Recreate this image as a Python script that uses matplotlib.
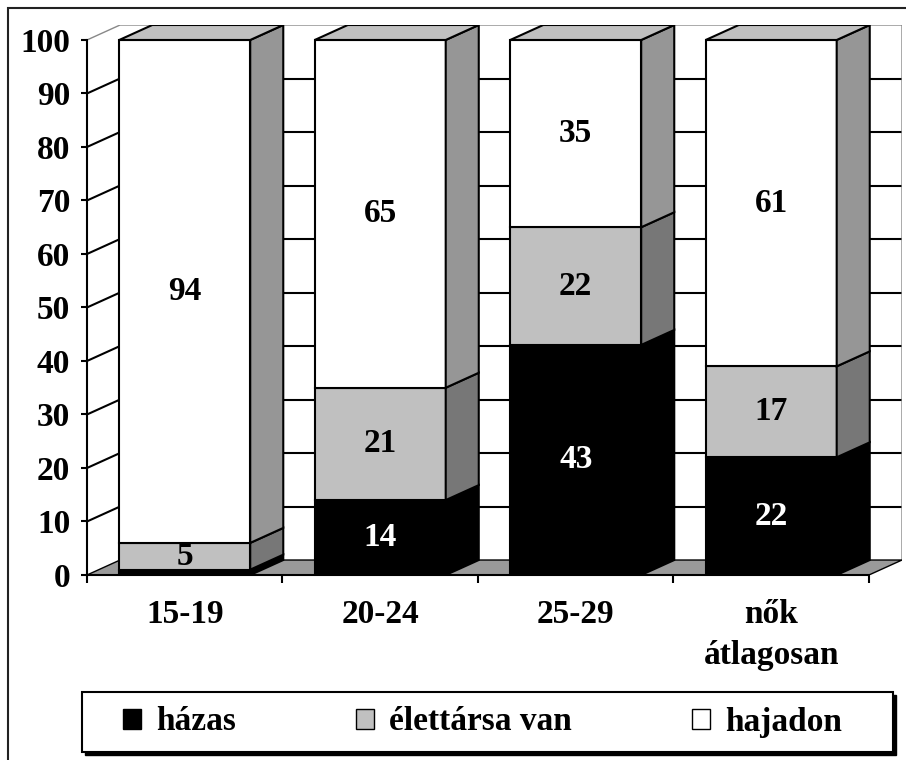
import matplotlib
matplotlib.use("Agg")
import matplotlib.pyplot as plt
from matplotlib.patches import Polygon, Rectangle, Patch

plt.rcParams['font.family'] = ['Liberation Serif', 'DejaVu Serif']
plt.rcParams['font.weight'] = 'bold'

# data (percent)
categories = ["15-19", "20-24", "25-29", "nők\nátlagosan"]
series_names = ["házas", "élettársa van", "hajadon"]
hazas = [1, 14, 43, 22]
elettarsa = [5, 21, 22, 17]
hajadon = [94, 65, 35, 61]
y_ticks = list(range(0, 101, 10))

# styles per series: front, side, top faces and label colour
front_colors = ["#000000", "#c0c0c0", "#ffffff"]
side_colors = ["#000000", "#777777", "#969696"]
top_colors = ["#000000", "#a8a8a8", "#c0c0c0"]
label_colors = ["white", "black", "black"]

DX = 0.169   # depth offset (category units)
DY = 2.8     # depth offset (percent units)
W = 0.67     # width of a bar's front face
FS = 24
LW = 1.5

fig = plt.figure(figsize=(9.06, 7.6), dpi=100)
ax = fig.add_axes([87 / 906, 1 - 575 / 760, (902 - 87) / 906, (575 - 25) / 760])
ax.set_xlim(-0.5, 3.5 + DX)
ax.set_ylim(0, 100 + DY)

# back wall grid and left wall diagonals
for v in y_ticks[1:-1]:
    ax.plot([-0.5 + DX, 3.5 + DX], [v + DY, v + DY], color="black", lw=LW, zorder=0.5)
for v in y_ticks[1:-1]:
    ax.plot([-0.5, -0.5 + DX], [v, v + DY], color="black", lw=LW, zorder=0.5)
top = y_ticks[-1]
ax.plot([-0.5, -0.5 + DX, 3.5 + DX, 3.5 + DX], [top, top + DY, top + DY, DY],
        color="#888888", lw=1, zorder=0.5)

# floor
floor = Polygon([(-0.5, 0), (3.5, 0), (3.5 + DX, DY), (-0.5 + DX, DY)],
                closed=True, fc="#9a9a9a", ec="black", lw=1, zorder=0.8)
ax.add_patch(floor)

# stacked 3d bars
series = [hazas, elettarsa, hajadon]
for i in range(len(categories)):
    xl = i - W / 2
    xr = i + W / 2
    b = 0
    for s, vals in enumerate(series):
        v = vals[i]
        t = b + v
        ax.add_patch(Rectangle((xl, b), W, v, fc=front_colors[s], ec="black", lw=LW, zorder=2))
        ax.add_patch(Polygon([(xr, b), (xr + DX, b + DY), (xr + DX, t + DY), (xr, t)],
                             closed=True, fc=side_colors[s], ec="black", lw=LW, zorder=2))
        if s == len(series) - 1:
            ax.add_patch(Polygon([(xl, t), (xr, t), (xr + DX, t + DY), (xl + DX, t + DY)],
                                 closed=True, fc=top_colors[s], ec="black", lw=LW, zorder=2))
        if v >= 3:
            ax.text(i, b + v / 2, str(v), ha="center", va="center", fontsize=FS,
                    fontweight="bold", color=label_colors[s], zorder=3)
        b = t

# axes
for sp in ["top", "right"]:
    ax.spines[sp].set_visible(False)
ax.spines["left"].set_bounds(0, 100)
ax.spines["bottom"].set_bounds(-0.5, 3.5)
ax.spines["left"].set_linewidth(LW)
ax.spines["bottom"].set_linewidth(LW)
ax.spines["left"].set_zorder(4)
ax.spines["bottom"].set_zorder(4)

ax.set_yticks(y_ticks)
ax.set_yticklabels([str(v) for v in y_ticks], fontsize=FS, fontweight="bold")
ax.tick_params(axis="y", length=4, width=LW, pad=8)

ax.set_xticks(range(len(categories)))
ax.set_xticklabels(categories, fontsize=FS, fontweight="bold", linespacing=1.45)
ax.set_xticks([i - 0.5 for i in range(len(categories) + 1)], minor=True)
ax.tick_params(axis="x", which="major", length=0, pad=17)
ax.tick_params(axis="x", which="minor", length=6, width=LW, direction="out")

# legend box with shadow
bx0, bx1, by0, by1 = 82, 893, 692, 752
fig.add_artist(Rectangle((bx0 / 906 + 3 / 906, 1 - by1 / 760 - 3 / 760),
                         (bx1 - bx0) / 906, (by1 - by0) / 760,
                         transform=fig.transFigure, fc="black", ec="black", lw=1))
fig.add_artist(Rectangle((bx0 / 906, 1 - by1 / 760), (bx1 - bx0) / 906, (by1 - by0) / 760,
                         transform=fig.transFigure, fc="white", ec="black", lw=LW))
handles = [Patch(fc=front_colors[s], ec="black", lw=1) for s in range(3)]
fig.legend(handles, series_names, loc="center",
           bbox_to_anchor=((bx0 + bx1) / 2 / 906 - 5 / 906, 1 - (by0 + by1) / 2 / 760),
           ncol=3, frameon=False, prop={"size": FS, "weight": "bold"},
           handlelength=0.55, handleheight=0.55, handletextpad=0.45, columnspacing=3.6)

# outer frame
fig.add_artist(Rectangle((8 / 906, -0.1), 1.2, 1.1 - 8 / 760, transform=fig.transFigure,
                         fill=False, ec="#222222", lw=1.5))

fig.savefig("out.png", dpi=100)
